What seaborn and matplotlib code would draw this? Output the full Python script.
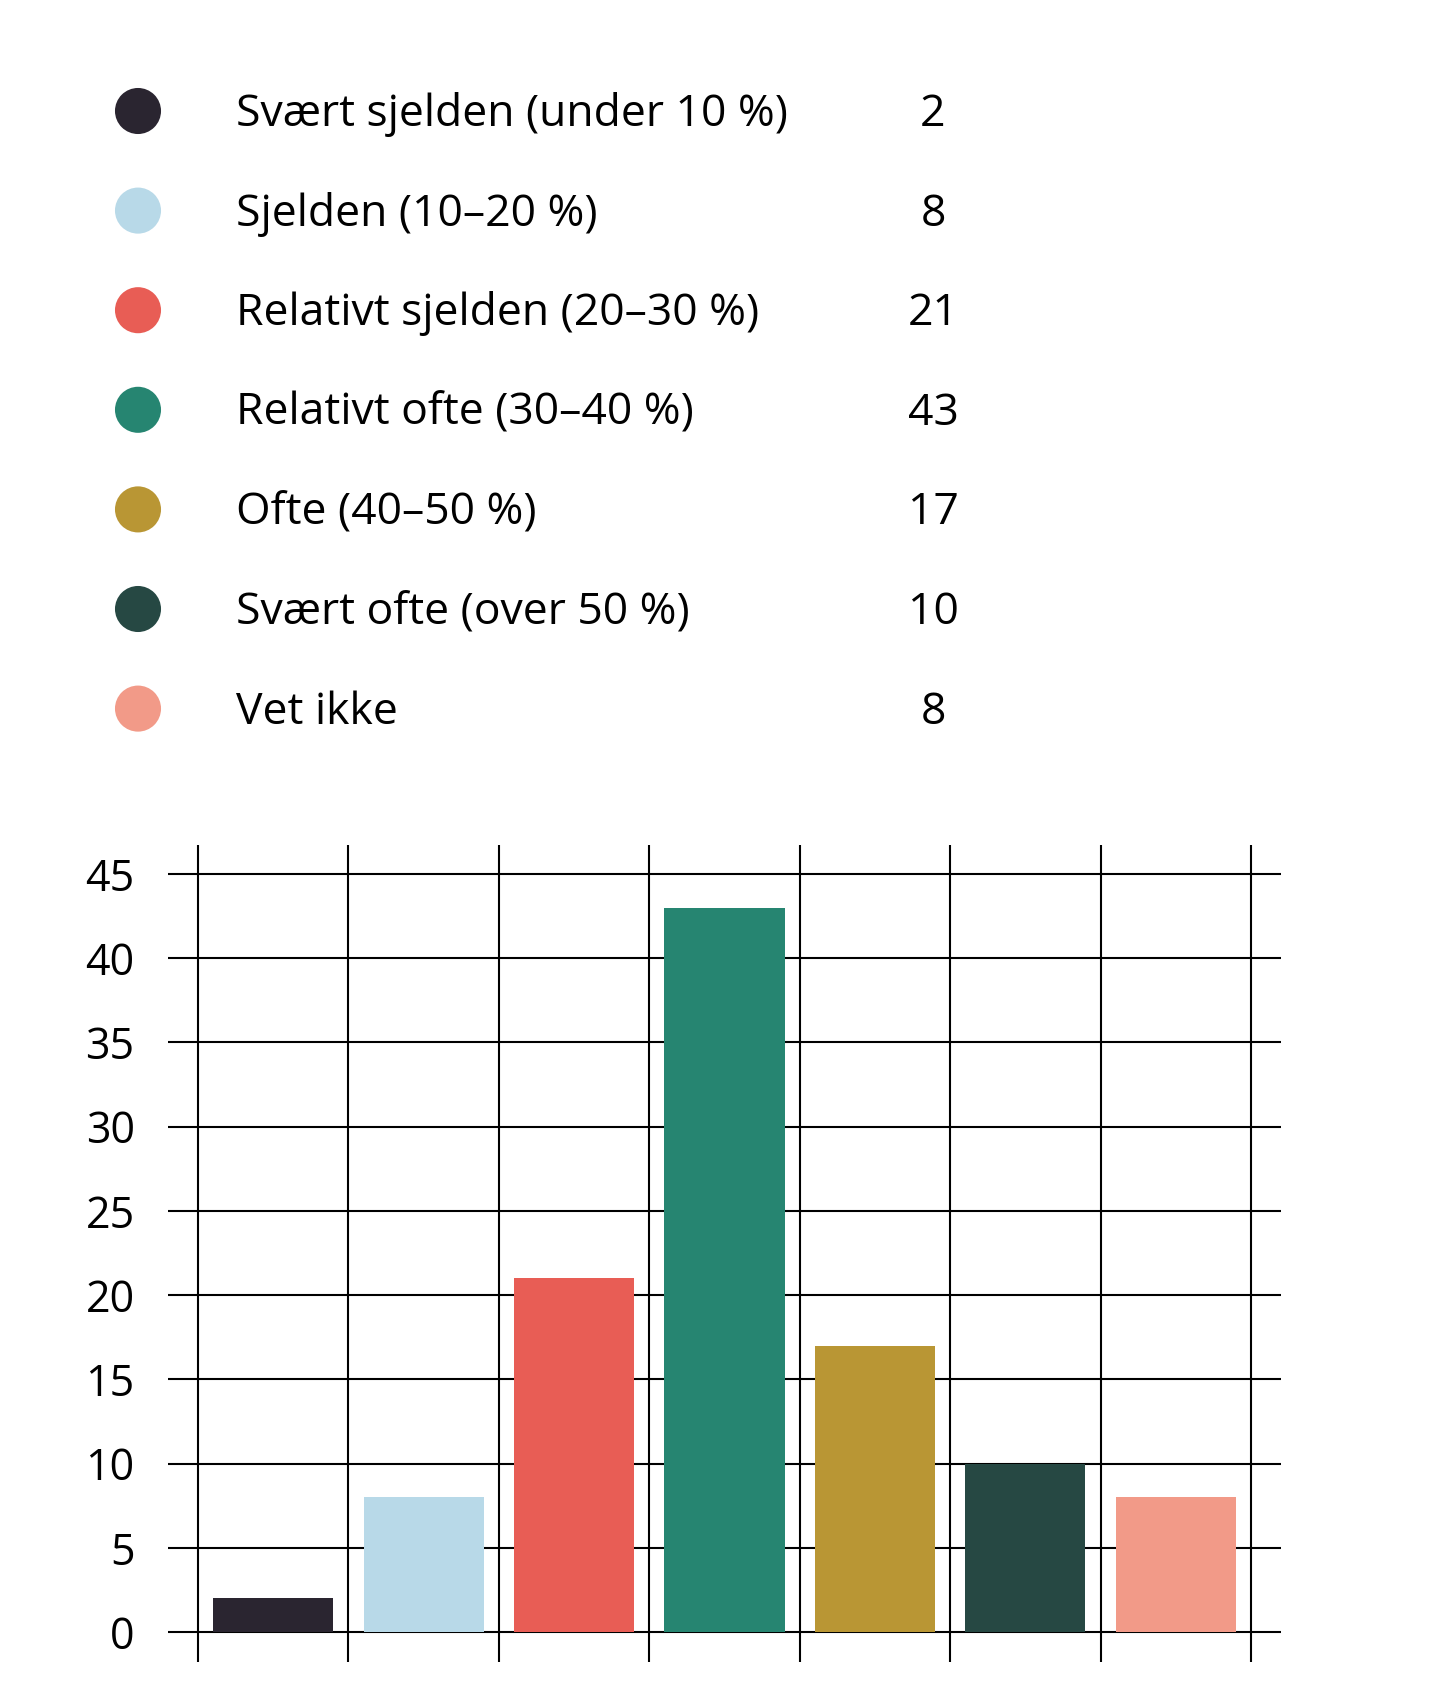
import matplotlib.pyplot as plt
import numpy as np
import seaborn as sns

categories = [
    "Svært sjelden (under 10 %)",
    "Sjelden (10–20 %)",
    "Relativt sjelden (20–30 %)",
    "Relativt ofte (30–40 %)",
    "Ofte (40–50 %)",
    "Svært ofte (over 50 %)",
    "Vet ikke",
]
values = [2, 8, 21, 43, 17, 10, 8]
colors = ["#2a2530", "#b8d9e8", "#e85d55", "#268571", "#b99634", "#264843", "#f29a88"]
y_ticks = [0, 5, 10, 15, 20, 25, 30, 35, 40, 45]

sns.set_theme(style="white")
plt.rcParams["font.family"] = ["Open Sans", "DejaVu Sans"]

W, H = 1450, 1704
fig = plt.figure(figsize=(W / 100, H / 100), dpi=100)

# legend block drawn in pixel coordinates
lax = fig.add_axes([0, 0, 1, 1])
lax.set_xlim(0, W)
lax.set_ylim(H, 0)
lax.axis("off")
row_y = 111 + np.arange(len(categories)) * 99.6
sns.scatterplot(x=[138] * len(categories), y=row_y, hue=categories, palette=colors,
                s=1100, linewidth=0, legend=False, ax=lax)
for y, label, v in zip(row_y, categories, values):
    lax.text(236, y + 15, label, fontsize=32, va="baseline", ha="left", color="black")
    lax.text(933, y + 15, str(v), fontsize=32, va="baseline", ha="center", color="black")

# bar chart
ax = fig.add_axes([168 / W, 1 - 1662 / H, (1281 - 168) / W, (1662 - 845) / H])
sns.barplot(x=categories, y=values, hue=categories, palette=colors, saturation=1,
            width=0.8, legend=False, linewidth=0, ax=ax)
ax.set_xlim(-0.7, 6.7)
ax.set_ylim(-1.78, 46.72)
ax.set_yticks(y_ticks)
ax.set_xticks(np.arange(-0.5, 7, 1))
ax.set_xticklabels([])
ax.set_xlabel("")
ax.set_ylabel("")
ax.grid(True, axis="both", color="black", linewidth=1.5)
ax.set_axisbelow(True)
for s in ax.spines.values():
    s.set_visible(False)
ax.tick_params(axis="y", length=0, pad=24, labelsize=31, colors="black")
ax.tick_params(axis="x", length=0)

fig.savefig("out.png", dpi=100)
